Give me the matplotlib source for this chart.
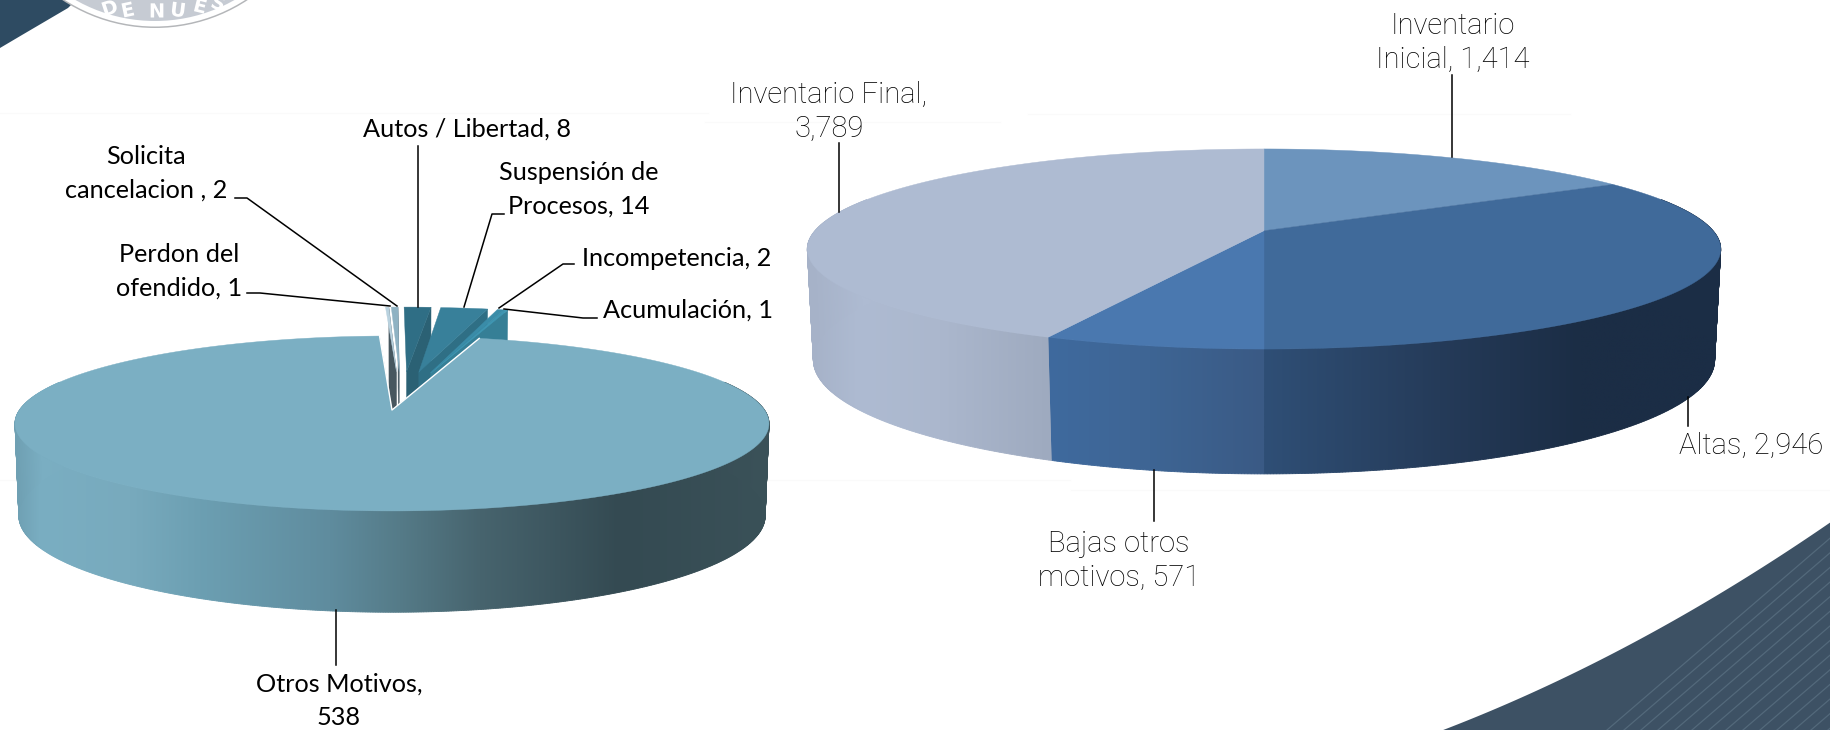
import numpy as np
import matplotlib
matplotlib.use("Agg")
import matplotlib.pyplot as plt
import matplotlib.patheffects as pe
from matplotlib.colors import to_rgb
from matplotlib.patches import Circle, Polygon

# Left pie: bajas por motivo
left_names = ["Otros Motivos", "Perdon del ofendido", "Solicita cancelacion", "Autos / Libertad",
              "Suspensión de Procesos", "Incompetencia", "Acumulación"]
left_values = [538, 1, 2, 8, 14, 2, 1]

# Right pie: inventario
right_names = ["Inventario Inicial", "Altas", "Bajas otros motivos", "Inventario Final"]
right_values = [1414, 2946, 571, 3789]

fig = plt.figure(figsize=(18.31, 7.30), dpi=100)
ax = fig.add_axes([0, 0, 1, 1])
ax.set_xlim(0, 1831)
ax.set_ylim(730, 0)
ax.axis("off")


def slice_angles(values, start):
    # clockwise from the top, in degrees
    edges = start + np.cumsum([0] + list(values)) / sum(values) * 360
    return edges[:-1], edges[1:]


def project(geo, theta, radius=1.0, depth=0.0, off=(0.0, 0.0)):
    # perspective projection of a point of the pie to pixels
    t = np.radians(theta)
    u = radius * np.sin(t) + off[0]
    v = radius * np.cos(t) + off[1]
    w = 1 + geo["k"] * v + geo["s"] * depth
    x = geo["x0"] + geo["a"] * u / w
    y = geo["y0"] - geo["b"] * v * (1 - 0.05 * depth) / w + geo["t"] * depth / w
    return x, y


def grad_color(stops, x):
    xs = [s[0] for s in stops]
    rgb = np.array([to_rgb(s[1]) for s in stops])
    return tuple(np.interp(x, xs, rgb[:, i]) for i in range(3))


def draw_wall(geo, a0, a1, stops, z):
    a0 = max(a0, 70)
    a1 = min(a1, 290)
    if a1 <= a0:
        return
    th = np.linspace(a0, a1, max(int((a1 - a0) * 3), 2))
    # small quads give the wall a clean outer edge
    for p, q in zip(th[:-1], th[1:]):
        x1, y1 = project(geo, p)
        x2, y2 = project(geo, q)
        x3, y3 = project(geo, q, depth=1)
        x4, y4 = project(geo, p, depth=1)
        c = grad_color(stops, (x1 + x2) / 2)
        ax.add_patch(Polygon([(x1, y1), (x2, y2), (x3, y3), (x4, y4)], closed=True,
                             facecolor=c, edgecolor=c, lw=0.6, zorder=z))
    # smooth gradient on top of them
    tx, ty = project(geo, th)
    bx, by = project(geo, th, depth=0.99)
    outline = Polygon(list(zip(tx, ty)) + list(zip(bx[::-1], by[::-1])), closed=True,
                      facecolor="none", edgecolor="none", transform=ax.transData)
    ax.add_patch(outline)
    x_min, x_max = min(tx.min(), bx.min()), max(tx.max(), bx.max())
    y_min, y_max = min(ty.min(), by.min()), max(ty.max(), by.max())
    grid = np.linspace(x_min, x_max, 400)
    img = np.array([[grad_color(stops, g) for g in grid]])
    im = ax.imshow(img, extent=(x_min, x_max, y_max, y_min), aspect="auto", zorder=z + 0.01,
                   interpolation="bilinear")
    im.set_clip_path(outline)
    ax.set_xlim(0, 1831)
    ax.set_ylim(730, 0)


def draw_top(geo, a0, a1, color, z, off=(0.0, 0.0), nudge=0.0):
    th = np.linspace(a0, a1, max(int((a1 - a0) * 2), 2))
    xs, ys = project(geo, th, off=off)
    cx, cy = project(geo, 0, radius=0, off=off)
    pts = [(cx + nudge, cy)] + list(zip(xs + nudge, ys))
    ax.add_patch(Polygon(pts, closed=True, facecolor=color, edgecolor=color, lw=0.3, zorder=z))


def draw_cut(geo, theta, color, z, off, nudge):
    # radial face on the right side of an exploded slice
    x1, y1 = project(geo, 0, radius=0, off=off)
    x2, y2 = project(geo, theta, off=off)
    x3, y3 = project(geo, theta, depth=1, off=off)
    x4, y4 = project(geo, 0, radius=0, depth=1, off=off)
    ax.add_patch(Polygon([(x1 + nudge, y1), (x2 + nudge, y2), (x3 + nudge, y3), (x4 + nudge, y4)],
                         closed=True, facecolor=color, edgecolor=color, lw=0.3, zorder=z))


# ---- background decoration ----
fit = np.polyfit([1443, 1560, 1697, 1831], [730, 680, 607, 522], 2)
sw_x = np.linspace(1443, 1831, 80)
sw_y = np.polyval(fit, sw_x)
swoosh = Polygon(list(zip(sw_x, sw_y)) + [(1831, 730)], closed=True, facecolor="#3d5164", edgecolor="none", zorder=1)
ax.add_patch(swoosh)
for x_start in np.arange(1607, 1960, 17):
    ln, = ax.plot([x_start, x_start + 300], [730, 730 - 300 * 0.86], color="#53697b", lw=0.9, zorder=1.1)
    ln.set_clip_path(swoosh)

ax.add_patch(Polygon([(0, 48), (22, 35), (68, 8), (76, 0), (0, 0)], closed=True, facecolor="#2e4b62",
                     edgecolor="none", zorder=1))
ax.add_patch(Circle((155, -140), 168, facecolor="#b4b6b9", edgecolor="none", zorder=1.2))
ax.add_patch(Circle((155, -140), 166.5, facecolor="white", edgecolor="none", zorder=1.3))
ax.add_patch(Circle((155, -140), 161, facecolor="#c6cbd3", edgecolor="none", zorder=1.4))
for ch, lx, ly, rot in [("D", 110, 9, 18), ("E", 128, 11, 12), ("N", 157, 12, 0), ("U", 178, 11, -7),
                        ("E", 200, 7, -14), ("S", 218, 4, -20)]:
    ax.text(lx, ly, ch, fontsize=14, family="DejaVu Sans", weight="bold", color="white",
            rotation=rot, ha="center", va="center", zorder=1.6,
            path_effects=[pe.SimpleLineShadow(offset=(0.8, -0.8), shadow_color="#6f747c", alpha=1), pe.Normal()])

for x0, x1, yy in [(0, 708, 113), (1028, 1570, 114), (705, 1000, 122), (0, 1070, 480), (1071, 1831, 490)]:
    ax.plot([x0, x1], [yy, yy], color="#fafafa", lw=0.9, zorder=0.5)

# ---- right pie ----
rg = dict(x0=1264, y0=230.7, a=449, b=96.7, k=0.183, s=0.013, t=110)
r_top = ["#6c94bd", "#406a9a", "#4a78af", "#aebbd2"]
r_wall = [
    [(1264, "#2f4f76"), (1722, "#1b2d45")],
    [(1264, "#2f4f76"), (1440, "#253b59"), (1580, "#1b2d45"), (1722, "#1b2d45")],
    [(1048, "#3f6a9e"), (1150, "#3e6594"), (1264, "#3a5a85")],
    [(812, "#a6b2c8"), (860, "#aebbd2"), (940, "#abb7cd"), (1050, "#9eaabf")],
]
r0, r1 = slice_angles(right_values, 0)
for i in range(len(right_values)):
    draw_wall(rg, r0[i], r1[i], r_wall[i], 3)
for i in range(len(right_values)):
    draw_top(rg, r0[i], r1[i], r_top[i], 4)

# ---- left pie ----
lg = dict(x0=392, y0=410, a=372.5, b=85.4, k=0.154, s=0.01, t=92)
l_top = ["#7bafc3", "#b9d2df", "#8fb2c3", "#2f6e85", "#38809a", "#3a8ca8", "#3f96b2"]
l_cut = ["#7bafc3", "#47575f", "#4a5c65", "#2b6174", "#2f6f85", "#327c93", "#367f96"]
l_explode = [0, 0.48, 0.48, 0.48, 0.48, 0.48, 0.48]
l_nudge = [0, 10, 10, 8, 0, -3, -5]
l_wall = [(16, "#6fa0b3"), (40, "#7aaec2"), (130, "#78aabd"), (200, "#6c9fb2"), (330, "#5f8c9e"),
          (400, "#557b88"), (480, "#47646e"), (620, "#344a52"), (763, "#3a5158")]
l0, l1 = slice_angles(left_values, 15.6)

for i in range(1, len(left_values)):
    mid = np.radians((l0[i] + l1[i]) / 2)
    off = (l_explode[i] * np.sin(mid), l_explode[i] * np.cos(mid))
    draw_cut(lg, l1[i], l_cut[i], 5 + i * 0.1, off, l_nudge[i])
    draw_top(lg, l0[i], l1[i], l_top[i], 5 + i * 0.1 + 0.05, off=off, nudge=l_nudge[i])

draw_wall(lg, l0[0], l1[0], l_wall, 6)
draw_top(lg, l0[0], l1[0], l_top[0], 7)
# white rim along the cut of the big slice
ex, ey = project(lg, l0[0])
fx, fy = project(lg, l1[0])
ax.plot([ex, lg["x0"], fx], [ey, lg["y0"], fy], color="white", lw=1.0, zorder=7.1)

# ---- leader lines ----
leaders = [
    [(235, 198), (247, 198), (397, 306)],
    [(418, 146), (418, 307)],
    [(504, 214), (492, 214), (464, 307)],
    [(574, 264), (563, 264), (499, 308)],
    [(597, 318), (583, 318), (504, 309)],
    [(247, 293), (260, 293), (390, 306)],
    [(336, 610), (336, 665)],
    [(1452, 75), (1452, 157)],
    [(839, 143), (839, 212)],
    [(1688, 397), (1688, 426)],
    [(1154, 470), (1154, 521)],
]
for pts in leaders:
    ax.plot([p[0] for p in pts], [p[1] for p in pts], color="black", lw=1.1, zorder=8)

# ---- labels ----
left_font = dict(family="Lato", fontsize=18.2, color="black", zorder=9, linespacing=1.55)
right_font = dict(family="Roboto", weight="light", fontsize=21, color="black", zorder=9, linespacing=1.3)

ax.text(467, 129, f"{left_names[3]}, {left_values[3]}", ha="center", va="center", **left_font)
ax.text(146, 173, f"Solicita\ncancelacion , {left_values[2]}", ha="center", va="center", **left_font)
ax.text(579, 189, f"Suspensión de\nProcesos, {left_values[4]}", ha="center", va="center", **left_font)
ax.text(179, 271, f"Perdon del\nofendido, {left_values[1]}", ha="center", va="center", **left_font)
ax.text(677, 258, f"{left_names[5]}, {left_values[5]}", ha="center", va="center", **left_font)
ax.text(688, 310, f"{left_names[6]}, {left_values[6]}", ha="center", va="center", **left_font)
ax.text(339, 701, f"Otros Motivos,\n{left_values[0]}", ha="center", va="center", **left_font)

ax.text(1453, 43, f"Inventario\nInicial, {right_values[0]:,}", ha="center", va="center", **right_font)
ax.text(829, 112, f"Inventario Final,\n{right_values[3]:,}", ha="center", va="center", **right_font)
ax.text(1751, 446, f"{right_names[1]}, {right_values[1]:,}", ha="center", va="center", **right_font)
ax.text(1119, 561, f"Bajas otros\nmotivos, {right_values[2]}", ha="center", va="center", **right_font)

fig.savefig("out.png", dpi=100, facecolor="white")
